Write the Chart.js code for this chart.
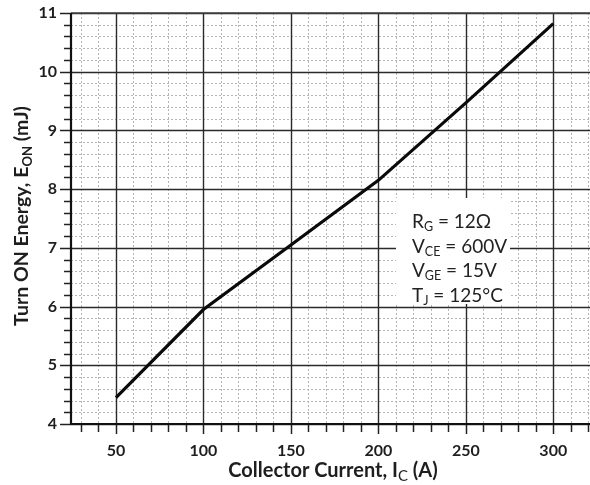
<!DOCTYPE html>
<html>
<head>
<meta charset="utf-8">
<script src="https://cdn.jsdelivr.net/npm/chart.js@4.4.1/dist/chart.umd.min.js"></script>
<style>
  html, body { margin: 0; padding: 0; background: #fff; }
  #wrap { width: 590px; height: 485px; position: relative; }
</style>
</head>
<body>
<div id="wrap"><canvas id="chart"></canvas></div>
<script>
// curve
const current = [50, 100, 150, 200, 250, 300];
const energy = [4.45, 5.95, 7.05, 8.15, 9.47, 10.82];

const xMajor = [50, 100, 150, 200, 250, 300];
const yMajor = [4, 5, 6, 7, 8, 9, 10, 11];
const conditions = [
  ['R', 'G', ' = 12\u03A9'],
  ['V', 'CE', ' = 600V'],
  ['V', 'GE', ' = 15V'],
  ['T', 'J', ' = 125\u00B0C']
];

const FONT = 'Lato, "Open Sans", sans-serif';

const gridPlugin = {
  id: 'gridPlugin',
  beforeDraw(chart) {
    const ctx = chart.ctx;
    ctx.save();
    ctx.fillStyle = '#fff';
    ctx.fillRect(0, 0, chart.width, chart.height);
    ctx.restore();
  },
  beforeDatasetsDraw(chart) {
    const ctx = chart.ctx;
    const xs = chart.scales.x, ys = chart.scales.y;
    const a = chart.chartArea;
    ctx.save();
    // minor dotted grid
    ctx.strokeStyle = '#b5b5b5';
    ctx.lineWidth = 1;
    ctx.setLineDash([2, 2]);
    for (let v = 30; v <= 320; v += 10) {
      if (v % 50 === 0) continue;
      const px = Math.round(xs.getPixelForValue(v)) + 0.5;
      ctx.beginPath(); ctx.moveTo(px, a.top); ctx.lineTo(px, a.bottom); ctx.stroke();
    }
    for (let i = 20; i <= 55; i++) {
      if (i % 5 === 0) continue;
      const py = Math.round(ys.getPixelForValue(i / 5)) + 0.5;
      ctx.beginPath(); ctx.moveTo(a.left, py); ctx.lineTo(a.right, py); ctx.stroke();
    }
    ctx.setLineDash([]);
    // major grid
    ctx.strokeStyle = '#2a2a2a';
    ctx.lineWidth = 1.4;
    xMajor.forEach(v => {
      const px = Math.round(xs.getPixelForValue(v)) + 0.5;
      ctx.beginPath(); ctx.moveTo(px, a.top); ctx.lineTo(px, a.bottom); ctx.stroke();
    });
    yMajor.forEach(v => {
      const py = Math.round(ys.getPixelForValue(v)) + 0.5;
      ctx.beginPath(); ctx.moveTo(a.left, py); ctx.lineTo(a.right, py); ctx.stroke();
    });
    // top border
    ctx.strokeStyle = '#444';
    ctx.lineWidth = 1.5;
    ctx.beginPath(); ctx.moveTo(a.left, a.top); ctx.lineTo(a.right, a.top); ctx.stroke();
    // tick marks outside
    ctx.strokeStyle = '#222';
    ctx.lineWidth = 1.5;
    for (let v = 30; v <= 320; v += 10) {
      const px = Math.round(xs.getPixelForValue(v)) + 0.5;
      ctx.beginPath(); ctx.moveTo(px, a.bottom); ctx.lineTo(px, a.bottom + (v % 50 === 0 ? 10 : 8)); ctx.stroke();
    }
    for (let i = 20; i <= 55; i++) {
      const py = Math.round(ys.getPixelForValue(i / 5)) + 0.5;
      ctx.beginPath(); ctx.moveTo(a.left, py); ctx.lineTo(a.left - (i % 5 === 0 ? 11 : 7), py); ctx.stroke();
    }
    // axes
    ctx.strokeStyle = '#111';
    ctx.lineWidth = 2.2;
    ctx.beginPath();
    ctx.moveTo(a.left, a.top); ctx.lineTo(a.left, a.bottom); ctx.lineTo(a.right, a.bottom);
    ctx.stroke();
    // white backing behind the conditions text
    ctx.fillStyle = '#fff';
    ctx.fillRect(396, 198, 114, 106);
    ctx.restore();
  },
  afterDraw(chart) {
    const ctx = chart.ctx;
    ctx.save();
    ctx.fillStyle = '#1e1e1e';
    ctx.textBaseline = 'alphabetic';

    // x title: Collector Current, I_C (A)
    const xParts = [
      ['Collector Current, I', 'bold 20px ' + FONT, 0],
      ['C', '15px ' + FONT, 4],
      [' (A)', 'bold 20px ' + FONT, 0]
    ];
    let w = 0;
    xParts.forEach(p => { ctx.font = p[1]; w += ctx.measureText(p[0]).width; });
    let x = 333 - w / 2;
    xParts.forEach(p => {
      ctx.font = p[1];
      ctx.fillText(p[0], x, 477 + p[2]);
      x += ctx.measureText(p[0]).width;
    });

    // y title: Turn ON Energy, E_ON (mJ)
    const yParts = [
      ['Turn ON Energy, E', 'bold 19.5px ' + FONT, 0],
      ['ON', 'bold 13px ' + FONT, 4],
      [' (mJ)', 'bold 19.5px ' + FONT, 0]
    ];
    w = 0;
    yParts.forEach(p => { ctx.font = p[1]; w += ctx.measureText(p[0]).width; });
    ctx.translate(28, 216);
    ctx.rotate(-Math.PI / 2);
    x = -w / 2;
    yParts.forEach(p => {
      ctx.font = p[1];
      ctx.fillText(p[0], x, p[2]);
      x += ctx.measureText(p[0]).width;
    });
    ctx.restore();

    // conditions box
    ctx.save();
    ctx.fillStyle = '#222';
    conditions.forEach((c, i) => {
      let cx = 412;
      const cy = 228 + i * 24.7;
      ctx.font = '19px ' + FONT;
      ctx.fillText(c[0], cx, cy);
      cx += ctx.measureText(c[0]).width;
      ctx.font = '12.5px ' + FONT;
      ctx.fillText(c[1], cx, cy + 3);
      cx += ctx.measureText(c[1]).width;
      ctx.font = '19px ' + FONT;
      ctx.fillText(c[2], cx, cy);
    });
    ctx.restore();
  }
};

new Chart(document.getElementById('chart'), {
  type: 'line',
  data: {
    datasets: [{
      data: current.map((c, i) => ({ x: c, y: energy[i] })),
      borderColor: '#0a0a0a',
      borderWidth: 3.2,
      pointRadius: 0,
      tension: 0,
      fill: false
    }]
  },
  options: {
    responsive: true,
    maintainAspectRatio: false,
    animation: false,
    layout: { padding: { top: 13, left: 0, right: 0, bottom: 0 } },
    plugins: { legend: { display: false }, tooltip: { enabled: false } },
    scales: {
      x: {
        type: 'linear',
        min: 24.3,
        max: 321,
        afterBuildTicks: s => { s.ticks = xMajor.map(v => ({ value: v })); },
        afterFit: s => { s.height = 61; s.paddingLeft = 0; s.paddingRight = 0; },
        grid: { display: false, drawTicks: false },
        border: { display: false },
        ticks: {
          autoSkip: false,
          maxRotation: 0,
          padding: 17,
          color: '#1e1e1e',
          font: { family: FONT, size: 16, weight: 'bold' }
        }
      },
      y: {
        min: 4,
        max: 11,
        afterBuildTicks: s => { s.ticks = yMajor.map(v => ({ value: v })); },
        afterFit: s => { s.width = 71; s.paddingTop = 0; s.paddingBottom = 0; },
        grid: { display: false, drawTicks: false },
        border: { display: false },
        ticks: {
          autoSkip: false,
          padding: 14,
          color: '#1e1e1e',
          font: { family: FONT, size: 16, weight: 'bold' }
        }
      }
    }
  },
  plugins: [gridPlugin]
});
</script>
</body>
</html>
